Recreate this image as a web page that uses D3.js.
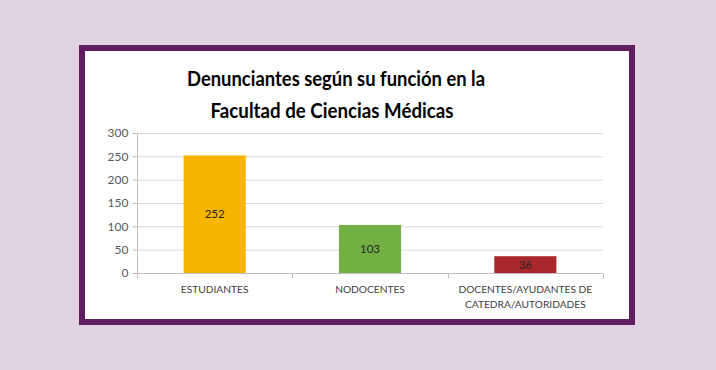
<!DOCTYPE html>
<html><head><meta charset="utf-8">
<script src="https://cdn.jsdelivr.net/npm/d3@7"></script>
<style>
html,body{margin:0;padding:0;background:#e0d4e1;}
svg{display:block;}
</style></head>
<body>
<svg id="c" width="716" height="370"></svg>
<script>
const categories = ["ESTUDIANTES", "NODOCENTES", "DOCENTES/AYUDANTES DE\nCATEDRA/AUTORIDADES"];
const values = [252, 103, 36];
const barColors = ["#f6b500", "#72b044", "#a8282c"];
const yTicks = [0, 50, 100, 150, 200, 250, 300];
const titleLines = ["Denunciantes según su función en la", "Facultad de Ciencias Médicas"];

(function(){
const svg = d3.select("#c");
svg.append("rect").attr("width",716).attr("height",370).attr("fill","#e0d4e1");
svg.append("rect").attr("x",82).attr("y",48).attr("width",550).attr("height",274)
  .attr("fill","#ffffff").attr("stroke","#601e60").attr("stroke-width",6);

const pl=137, pr=603, pt=133, pb=273;
const x = d3.scaleBand().domain(categories).range([pl,pr]).padding(0);
const y = d3.scaleLinear().domain([0,300]).range([pb,pt]);

// gridlines
svg.append("g").selectAll("line").data(yTicks.filter(d=>d>0)).join("line")
  .attr("x1",pl).attr("x2",pr).attr("y1",d=>y(d)+0.5).attr("y2",d=>y(d)+0.5)
  .attr("stroke","#d9d9d9").attr("stroke-width",1);

// y axis
const yAxis = svg.append("g").attr("transform",`translate(${pl+0.5},0)`)
  .call(d3.axisLeft(y).tickValues(yTicks).tickSize(5).tickPadding(4));
yAxis.select(".domain").attr("stroke","#bfbfbf").attr("d",`M0,${pt+0.5}V${pb+0.5}`);
yAxis.selectAll(".tick line").attr("stroke","#bfbfbf");
yAxis.selectAll(".tick").attr("transform",d=>`translate(0,${y(d)+0.5})`);
yAxis.selectAll("text").attr("fill","#595959").style("font-family","Lato, 'Open Sans', sans-serif").style("font-size","12px");

// x axis
const xAxis = svg.append("g").attr("transform",`translate(0,${pb+0.5})`);
xAxis.append("line").attr("x1",pl).attr("x2",pr).attr("stroke","#bfbfbf");
const bounds = [pl, ...categories.map(c=>x(c)+x.bandwidth())];
xAxis.selectAll("line.t").data(bounds).join("line").attr("class","t")
  .attr("x1",d=>Math.round(d)+0.5).attr("x2",d=>Math.round(d)+0.5).attr("y1",0).attr("y2",5)
  .attr("stroke","#bfbfbf");
xAxis.selectAll("text").data(categories).join("text")
  .attr("text-anchor","middle").attr("fill","#404040")
  .style("font-family","Lato, 'Open Sans', sans-serif").style("font-size","10.2px")
  .each(function(d){
    const t=d3.select(this);
    d.split("\n").forEach((s,i)=>{
      t.append("tspan").attr("x",x(d)+x.bandwidth()/2).attr("y",19+i*15).text(s);
    });
  });

// bars
const bw = x.bandwidth()*0.4;
svg.append("g").selectAll("rect").data(values).join("rect")
  .attr("x",(d,i)=>x(categories[i])+x.bandwidth()/2-bw/2)
  .attr("width",bw)
  .attr("y",d=>y(d)).attr("height",d=>pb-y(d))
  .attr("fill",(d,i)=>barColors[i]);

svg.append("g").selectAll("text").data(values).join("text")
  .attr("x",(d,i)=>x(categories[i])+x.bandwidth()/2)
  .attr("y",d=>(y(d)+pb)/2+4)
  .attr("text-anchor","middle").attr("fill","#262626")
  .style("font-family","Lato, 'Open Sans', sans-serif").style("font-size","11.5px")
  .text(d=>d);

// title
const tl=[298,243];
svg.append("g").selectAll("text").data(titleLines).join("text")
  .attr("x",(d,i)=>i===0?336:332).attr("y",(d,i)=>86+i*32)
  .attr("text-anchor","middle").attr("fill","#000")
  .attr("textLength",(d,i)=>tl[i]).attr("lengthAdjust","spacingAndGlyphs")
  .style("font-family","Lato, 'Open Sans', sans-serif").style("font-size","20.5px").style("font-weight","bold")
  .text(d=>d);
})();
</script>
</body></html>
